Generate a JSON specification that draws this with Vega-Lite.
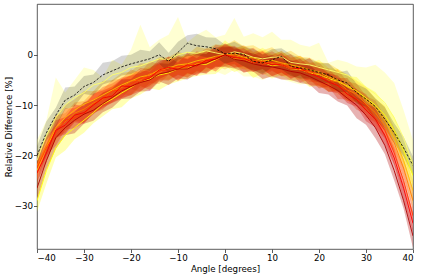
{
  "$schema": "https://vega.github.io/schema/vega-lite/v6.json",
  "autosize": "none",
  "width": 376,
  "height": 245,
  "padding": {"left": 37, "top": 4, "right": 12, "bottom": 28},
  "config": {
    "view": {"stroke": "#333", "strokeWidth": 0.8},
    "font": "DejaVu Sans",
    "axis": {"grid": false, "domain": false, "tickColor": "#333", "tickSize": 3.5, "tickWidth": 0.8, "labelFontSize": 8.7, "titleFontSize": 8.7, "labelColor": "#000", "titleColor": "#000", "titleFontWeight": "normal", "labelFont": "DejaVu Sans", "titleFont": "DejaVu Sans"}
  },
  "datasets": {
    "d": [
{"s":"a","x":-40,"y":-21,"lo":-25,"hi":-17},{"s":"a","x":-38,"y":-16,"lo":-19.5,"hi":-13},{"s":"a","x":-36,"y":-12.5,"lo":-17,"hi":-4.5},{"s":"a","x":-34,"y":-10,"lo":-13.8,"hi":-7.5},{"s":"a","x":-32,"y":-8.5,"lo":-12.7,"hi":-5},{"s":"a","x":-30,"y":-7.5,"lo":-11.1,"hi":-2.5},{"s":"a","x":-28,"y":-6,"lo":-10.4,"hi":-3},{"s":"a","x":-26,"y":-5.5,"lo":-9.4,"hi":-4.5},{"s":"a","x":-24,"y":-4,"lo":-8.1,"hi":-1},{"s":"a","x":-22,"y":-3.5,"lo":-7.2,"hi":-2},{"s":"a","x":-20,"y":-2.5,"lo":-6.5,"hi":1},{"s":"a","x":-18,"y":-2.2,"lo":-5.7,"hi":6},{"s":"a","x":-16,"y":-1.5,"lo":-6,"hi":1.5},{"s":"a","x":-14,"y":-0.8,"lo":-4.6,"hi":3},{"s":"a","x":-12,"y":-0.9,"lo":-5.1,"hi":4},{"s":"a","x":-10,"y":0,"lo":-3.6,"hi":7.5},{"s":"a","x":-8,"y":0.5,"lo":-3.9,"hi":2.5},{"s":"a","x":-6,"y":0.3,"lo":-3.6,"hi":4},{"s":"a","x":-4,"y":0.8,"lo":-3.3,"hi":5},{"s":"a","x":-2,"y":0.4,"lo":-3.3,"hi":3.5},{"s":"a","x":0,"y":0,"lo":-4,"hi":4},{"s":"a","x":2,"y":0.6,"lo":-2.9,"hi":7.3},{"s":"a","x":4,"y":0.2,"lo":-4.3,"hi":3.6},{"s":"a","x":6,"y":-0.5,"lo":-4.3,"hi":4.3},{"s":"a","x":8,"y":-0.8,"lo":-5,"hi":3.5},{"s":"a","x":10,"y":-0.5,"lo":-4.1,"hi":4.6},{"s":"a","x":12,"y":-0.4,"lo":-4.8,"hi":3},{"s":"a","x":14,"y":-1.5,"lo":-5.4,"hi":3},{"s":"a","x":16,"y":-1.8,"lo":-5.9,"hi":2},{"s":"a","x":18,"y":-2,"lo":-5.7,"hi":1.6},{"s":"a","x":20,"y":-2.5,"lo":-6.5,"hi":2.4},{"s":"a","x":22,"y":-3,"lo":-6.5,"hi":-1.6},{"s":"a","x":24,"y":-3.5,"lo":-8,"hi":-1},{"s":"a","x":26,"y":-4,"lo":-7.8,"hi":-1.5},{"s":"a","x":28,"y":-5.2,"lo":-9.4,"hi":-2.3},{"s":"a","x":30,"y":-6.5,"lo":-10.1,"hi":-2.5},{"s":"a","x":32,"y":-7.8,"lo":-12.2,"hi":-2},{"s":"a","x":34,"y":-9.5,"lo":-13.4,"hi":-3.5},{"s":"a","x":36,"y":-12.5,"lo":-16.6,"hi":-5.6},{"s":"a","x":38,"y":-16.5,"lo":-20.2,"hi":-11},{"s":"a","x":40,"y":-22,"lo":-26,"hi":-17},
{"s":"b","x":-40,"y":-29,"lo":-31.2,"hi":-26.1},{"s":"b","x":-38,"y":-23,"lo":-25.6,"hi":-20.9},{"s":"b","x":-36,"y":-18.5,"lo":-20.4,"hi":-16},{"s":"b","x":-34,"y":-16,"lo":-19,"hi":-14},{"s":"b","x":-32,"y":-14.5,"lo":-16.8,"hi":-11.7},{"s":"b","x":-30,"y":-13,"lo":-15.5,"hi":-10.7},{"s":"b","x":-28,"y":-11.5,"lo":-13.6,"hi":-8.9},{"s":"b","x":-26,"y":-9.8,"lo":-12.2,"hi":-7.6},{"s":"b","x":-24,"y":-8.8,"lo":-10.8,"hi":-6.1},{"s":"b","x":-22,"y":-7.6,"lo":-10.4,"hi":-5.7},{"s":"b","x":-20,"y":-6.5,"lo":-8.7,"hi":-3.6},{"s":"b","x":-18,"y":-5.3,"lo":-7.9,"hi":-3.2},{"s":"b","x":-16,"y":-4.8,"lo":-6.7,"hi":-2.3},{"s":"b","x":-14,"y":-4,"lo":-7,"hi":-2},{"s":"b","x":-12,"y":-3.6,"lo":-5.9,"hi":-0.8},{"s":"b","x":-10,"y":-2.8,"lo":-5.3,"hi":-0.5},{"s":"b","x":-8,"y":-2.6,"lo":-4.7,"hi":0},{"s":"b","x":-6,"y":-1.8,"lo":-4.2,"hi":0.4},{"s":"b","x":-4,"y":-1.9,"lo":-3.9,"hi":0.8},{"s":"b","x":-2,"y":-1,"lo":-3.8,"hi":0.9},{"s":"b","x":0,"y":0,"lo":-2.2,"hi":2.9},{"s":"b","x":2,"y":-0.8,"lo":-3.4,"hi":1.3},{"s":"b","x":4,"y":-0.8,"lo":-2.7,"hi":1.7},{"s":"b","x":6,"y":-1.6,"lo":-4.6,"hi":0.4},{"s":"b","x":8,"y":-1.4,"lo":-3.7,"hi":1.4},{"s":"b","x":10,"y":-2.2,"lo":-4.7,"hi":0.1},{"s":"b","x":12,"y":-1.9,"lo":-4,"hi":0.7},{"s":"b","x":14,"y":-2.8,"lo":-5.2,"hi":-0.6},{"s":"b","x":16,"y":-2.9,"lo":-4.9,"hi":-0.2},{"s":"b","x":18,"y":-3.6,"lo":-6.4,"hi":-1.7},{"s":"b","x":20,"y":-3.9,"lo":-6.1,"hi":-1},{"s":"b","x":22,"y":-4.7,"lo":-7.3,"hi":-2.6},{"s":"b","x":24,"y":-5.3,"lo":-7.2,"hi":-2.8},{"s":"b","x":26,"y":-6.2,"lo":-9.2,"hi":-4.2},{"s":"b","x":28,"y":-7.2,"lo":-9.5,"hi":-4.4},{"s":"b","x":30,"y":-8.6,"lo":-11.1,"hi":-6.3},{"s":"b","x":32,"y":-10,"lo":-12.1,"hi":-7.4},{"s":"b","x":34,"y":-12,"lo":-14.4,"hi":-9.8},{"s":"b","x":36,"y":-15,"lo":-17,"hi":-12.3},{"s":"b","x":38,"y":-19,"lo":-21.8,"hi":-17.1},{"s":"b","x":40,"y":-24,"lo":-26.2,"hi":-21.1},
{"s":"c","x":-40,"y":-23,"lo":-25.9,"hi":-21.1},{"s":"c","x":-38,"y":-18.5,"lo":-20.7,"hi":-15.8},{"s":"c","x":-36,"y":-14.5,"lo":-16.9,"hi":-12.3},{"s":"c","x":-34,"y":-12.5,"lo":-14.5,"hi":-10},{"s":"c","x":-32,"y":-11,"lo":-13.3,"hi":-8.9},{"s":"c","x":-30,"y":-9.8,"lo":-11.7,"hi":-7.2},{"s":"c","x":-28,"y":-9,"lo":-11.7,"hi":-7.2},{"s":"c","x":-26,"y":-8,"lo":-10.1,"hi":-5.2},{"s":"c","x":-24,"y":-7,"lo":-9.5,"hi":-5},{"s":"c","x":-22,"y":-6,"lo":-7.8,"hi":-3.6},{"s":"c","x":-20,"y":-5.2,"lo":-8.1,"hi":-3.3},{"s":"c","x":-18,"y":-4.4,"lo":-6.6,"hi":-1.7},{"s":"c","x":-16,"y":-4,"lo":-6.4,"hi":-1.8},{"s":"c","x":-14,"y":-3,"lo":-5,"hi":-0.5},{"s":"c","x":-12,"y":-2.6,"lo":-4.9,"hi":-0.5},{"s":"c","x":-10,"y":-2,"lo":-3.9,"hi":0.6},{"s":"c","x":-8,"y":-1.8,"lo":-4.5,"hi":0},{"s":"c","x":-6,"y":-1.2,"lo":-3.3,"hi":1.6},{"s":"c","x":-4,"y":-0.8,"lo":-3.3,"hi":1.2},{"s":"c","x":-2,"y":-0.3,"lo":-2.1,"hi":2.1},{"s":"c","x":0,"y":0,"lo":-2.9,"hi":1.9},{"s":"c","x":2,"y":0.2,"lo":-2,"hi":2.9},{"s":"c","x":4,"y":-0.5,"lo":-2.9,"hi":1.7},{"s":"c","x":6,"y":-0.6,"lo":-2.6,"hi":1.9},{"s":"c","x":8,"y":-1.2,"lo":-3.5,"hi":0.9},{"s":"c","x":10,"y":-1.1,"lo":-3,"hi":1.5},{"s":"c","x":12,"y":-1.6,"lo":-4.3,"hi":0.2},{"s":"c","x":14,"y":-2,"lo":-4.1,"hi":0.8},{"s":"c","x":16,"y":-2.4,"lo":-4.9,"hi":-0.4},{"s":"c","x":18,"y":-3,"lo":-4.8,"hi":-0.6},{"s":"c","x":20,"y":-3.4,"lo":-6.3,"hi":-1.5},{"s":"c","x":22,"y":-4.4,"lo":-6.6,"hi":-1.7},{"s":"c","x":24,"y":-5,"lo":-7.4,"hi":-2.8},{"s":"c","x":26,"y":-6.4,"lo":-8.4,"hi":-3.9},{"s":"c","x":28,"y":-7.2,"lo":-9.5,"hi":-5.1},{"s":"c","x":30,"y":-9,"lo":-10.9,"hi":-6.4},{"s":"c","x":32,"y":-10.5,"lo":-13.2,"hi":-8.7},{"s":"c","x":34,"y":-13,"lo":-15.1,"hi":-10.2},{"s":"c","x":36,"y":-16.5,"lo":-19,"hi":-14.5},{"s":"c","x":38,"y":-21,"lo":-22.8,"hi":-18.6},{"s":"c","x":40,"y":-27,"lo":-29.9,"hi":-25.1},
{"s":"d","x":-40,"y":-22,"lo":-23.6,"hi":-19.7},{"s":"d","x":-38,"y":-18,"lo":-20.4,"hi":-16.5},{"s":"d","x":-36,"y":-14.5,"lo":-16.3,"hi":-12},{"s":"d","x":-34,"y":-13.3,"lo":-15.5,"hi":-11.6},{"s":"d","x":-32,"y":-11.6,"lo":-13.1,"hi":-9.5},{"s":"d","x":-30,"y":-10.8,"lo":-13.4,"hi":-9.2},{"s":"d","x":-28,"y":-9.6,"lo":-11.5,"hi":-7.2},{"s":"d","x":-26,"y":-8.8,"lo":-10.9,"hi":-6.9},{"s":"d","x":-24,"y":-7.2,"lo":-8.9,"hi":-5},{"s":"d","x":-22,"y":-6.5,"lo":-8.5,"hi":-4.7},{"s":"d","x":-20,"y":-5.2,"lo":-6.8,"hi":-2.9},{"s":"d","x":-18,"y":-5,"lo":-7.4,"hi":-3.5},{"s":"d","x":-16,"y":-3.8,"lo":-5.6,"hi":-1.3},{"s":"d","x":-14,"y":-3.6,"lo":-5.8,"hi":-1.9},{"s":"d","x":-12,"y":-2.4,"lo":-3.9,"hi":-0.3},{"s":"d","x":-10,"y":-2.6,"lo":-5.2,"hi":-1},{"s":"d","x":-8,"y":-1.9,"lo":-3.8,"hi":0.5},{"s":"d","x":-6,"y":-1.9,"lo":-4,"hi":0},{"s":"d","x":-4,"y":-0.9,"lo":-2.6,"hi":1.3},{"s":"d","x":-2,"y":-0.8,"lo":-2.8,"hi":1},{"s":"d","x":0,"y":0,"lo":-1.6,"hi":2.3},{"s":"d","x":2,"y":-0.2,"lo":-2.6,"hi":1.3},{"s":"d","x":4,"y":-0.6,"lo":-2.4,"hi":1.9},{"s":"d","x":6,"y":-1.1,"lo":-3.3,"hi":0.6},{"s":"d","x":8,"y":-1.3,"lo":-2.8,"hi":0.8},{"s":"d","x":10,"y":-1.7,"lo":-4.3,"hi":-0.1},{"s":"d","x":12,"y":-1.6,"lo":-3.5,"hi":0.8},{"s":"d","x":14,"y":-2.5,"lo":-4.6,"hi":-0.6},{"s":"d","x":16,"y":-2.4,"lo":-4.1,"hi":-0.2},{"s":"d","x":18,"y":-3.4,"lo":-5.4,"hi":-1.6},{"s":"d","x":20,"y":-3.8,"lo":-5.4,"hi":-1.5},{"s":"d","x":22,"y":-5,"lo":-7.4,"hi":-3.5},{"s":"d","x":24,"y":-5.4,"lo":-7.2,"hi":-2.9},{"s":"d","x":26,"y":-7,"lo":-9.2,"hi":-5.3},{"s":"d","x":28,"y":-7.8,"lo":-9.3,"hi":-5.7},{"s":"d","x":30,"y":-9.8,"lo":-12.4,"hi":-8.2},{"s":"d","x":32,"y":-11.5,"lo":-13.4,"hi":-9.1},{"s":"d","x":34,"y":-14.2,"lo":-16.3,"hi":-12.3},{"s":"d","x":36,"y":-17.5,"lo":-19.2,"hi":-15.3},{"s":"d","x":38,"y":-22.5,"lo":-24.5,"hi":-20.7},{"s":"d","x":40,"y":-29,"lo":-30.6,"hi":-26.7},
{"s":"e","x":-40,"y":-22.5,"lo":-24.7,"hi":-20.8},{"s":"e","x":-38,"y":-18.5,"lo":-20,"hi":-16.4},{"s":"e","x":-36,"y":-15.5,"lo":-18.1,"hi":-13.9},{"s":"e","x":-34,"y":-13,"lo":-14.9,"hi":-10.6},{"s":"e","x":-32,"y":-12.5,"lo":-14.6,"hi":-10.6},{"s":"e","x":-30,"y":-11.8,"lo":-13.5,"hi":-9.6},{"s":"e","x":-28,"y":-9.8,"lo":-11.8,"hi":-8},{"s":"e","x":-26,"y":-8.7,"lo":-10.3,"hi":-6.4},{"s":"e","x":-24,"y":-7.2,"lo":-9.6,"hi":-5.7},{"s":"e","x":-22,"y":-7,"lo":-8.8,"hi":-4.5},{"s":"e","x":-20,"y":-5.8,"lo":-8,"hi":-4.1},{"s":"e","x":-18,"y":-4.7,"lo":-6.2,"hi":-2.6},{"s":"e","x":-16,"y":-4.4,"lo":-7,"hi":-2.8},{"s":"e","x":-14,"y":-3.2,"lo":-5.1,"hi":-0.8},{"s":"e","x":-12,"y":-3,"lo":-5.1,"hi":-1.1},{"s":"e","x":-10,"y":-2.3,"lo":-4,"hi":-0.1},{"s":"e","x":-8,"y":-2.5,"lo":-4.5,"hi":-0.7},{"s":"e","x":-6,"y":-1.6,"lo":-3.2,"hi":0.7},{"s":"e","x":-4,"y":-1.4,"lo":-3.8,"hi":0.1},{"s":"e","x":-2,"y":-0.5,"lo":-2.3,"hi":2},{"s":"e","x":0,"y":0,"lo":-2.2,"hi":1.7},{"s":"e","x":2,"y":-0.3,"lo":-1.8,"hi":1.8},{"s":"e","x":4,"y":-1,"lo":-3.6,"hi":0.6},{"s":"e","x":6,"y":-1,"lo":-2.9,"hi":1.4},{"s":"e","x":8,"y":-1.9,"lo":-4,"hi":0},{"s":"e","x":10,"y":-1.5,"lo":-3.2,"hi":0.7},{"s":"e","x":12,"y":-2.2,"lo":-4.2,"hi":-0.4},{"s":"e","x":14,"y":-2.2,"lo":-3.8,"hi":0.1},{"s":"e","x":16,"y":-3.1,"lo":-5.5,"hi":-1.6},{"s":"e","x":18,"y":-3.1,"lo":-4.9,"hi":-0.6},{"s":"e","x":20,"y":-4.5,"lo":-6.7,"hi":-2.8},{"s":"e","x":22,"y":-4.8,"lo":-6.3,"hi":-2.7},{"s":"e","x":24,"y":-6.2,"lo":-8.8,"hi":-4.6},{"s":"e","x":26,"y":-7,"lo":-8.9,"hi":-4.6},{"s":"e","x":28,"y":-8.8,"lo":-10.9,"hi":-6.9},{"s":"e","x":30,"y":-10,"lo":-11.7,"hi":-7.8},{"s":"e","x":32,"y":-12.5,"lo":-14.5,"hi":-10.7},{"s":"e","x":34,"y":-15,"lo":-16.6,"hi":-12.7},{"s":"e","x":36,"y":-19.5,"lo":-21.9,"hi":-18},{"s":"e","x":38,"y":-25,"lo":-26.8,"hi":-22.5},{"s":"e","x":40,"y":-32,"lo":-34.2,"hi":-30.3},
{"s":"f","x":-40,"y":-23.5,"lo":-25.2,"hi":-21.3},{"s":"f","x":-38,"y":-19.5,"lo":-21.4,"hi":-17.8},{"s":"f","x":-36,"y":-15,"lo":-16.5,"hi":-13},{"s":"f","x":-34,"y":-14,"lo":-15.8,"hi":-12.4},{"s":"f","x":-32,"y":-12,"lo":-13.4,"hi":-9.9},{"s":"f","x":-30,"y":-11.5,"lo":-13.7,"hi":-10.2},{"s":"f","x":-28,"y":-10,"lo":-11.6,"hi":-7.7},{"s":"f","x":-26,"y":-8.6,"lo":-10.6,"hi":-7.1},{"s":"f","x":-24,"y":-8.2,"lo":-9.5,"hi":-6.3},{"s":"f","x":-22,"y":-6.2,"lo":-8.6,"hi":-4.8},{"s":"f","x":-20,"y":-6.3,"lo":-8,"hi":-4.1},{"s":"f","x":-18,"y":-5.3,"lo":-7.2,"hi":-3.6},{"s":"f","x":-16,"y":-4.6,"lo":-6.1,"hi":-2.6},{"s":"f","x":-14,"y":-3,"lo":-4.8,"hi":-1.4},{"s":"f","x":-12,"y":-2.5,"lo":-3.9,"hi":-0.4},{"s":"f","x":-10,"y":-2.9,"lo":-5.1,"hi":-1.6},{"s":"f","x":-8,"y":-2,"lo":-3.6,"hi":0.3},{"s":"f","x":-6,"y":-2.2,"lo":-4.2,"hi":-0.7},{"s":"f","x":-4,"y":-1.1,"lo":-2.4,"hi":0.8},{"s":"f","x":-2,"y":-0.9,"lo":-3.3,"hi":0.5},{"s":"f","x":0,"y":0,"lo":-1.7,"hi":2.2},{"s":"f","x":2,"y":-0.6,"lo":-2.5,"hi":1.1},{"s":"f","x":4,"y":-0.7,"lo":-2.2,"hi":1.3},{"s":"f","x":6,"y":-1.6,"lo":-3.4,"hi":0},{"s":"f","x":8,"y":-1.4,"lo":-2.8,"hi":0.7},{"s":"f","x":10,"y":-2,"lo":-4.2,"hi":-0.7},{"s":"f","x":12,"y":-1.9,"lo":-3.5,"hi":0.4},{"s":"f","x":14,"y":-2.8,"lo":-4.8,"hi":-1.3},{"s":"f","x":16,"y":-2.7,"lo":-4,"hi":-0.8},{"s":"f","x":18,"y":-3.7,"lo":-6.1,"hi":-2.3},{"s":"f","x":20,"y":-4.4,"lo":-6.1,"hi":-2.2},{"s":"f","x":22,"y":-5.4,"lo":-7.3,"hi":-3.7},{"s":"f","x":24,"y":-6.1,"lo":-7.6,"hi":-4.1},{"s":"f","x":26,"y":-7.8,"lo":-9.6,"hi":-6.2},{"s":"f","x":28,"y":-8.9,"lo":-10.3,"hi":-6.8},{"s":"f","x":30,"y":-11,"lo":-13.2,"hi":-9.7},{"s":"f","x":32,"y":-12.8,"lo":-14.4,"hi":-10.5},{"s":"f","x":34,"y":-16,"lo":-18,"hi":-14.5},{"s":"f","x":36,"y":-20.5,"lo":-21.8,"hi":-18.6},{"s":"f","x":38,"y":-26.5,"lo":-28.9,"hi":-25.1},{"s":"f","x":40,"y":-33.5,"lo":-35.2,"hi":-31.3},
{"s":"g","x":-40,"y":-26.5,"lo":-28.9,"hi":-25},{"s":"g","x":-38,"y":-21,"lo":-22.8,"hi":-18.5},{"s":"g","x":-36,"y":-16.5,"lo":-18.7,"hi":-14.8},{"s":"g","x":-34,"y":-14.5,"lo":-16,"hi":-12.4},{"s":"g","x":-32,"y":-13,"lo":-15.6,"hi":-11.4},{"s":"g","x":-30,"y":-11.8,"lo":-13.7,"hi":-9.4},{"s":"g","x":-28,"y":-11,"lo":-13.1,"hi":-9.1},{"s":"g","x":-26,"y":-9.7,"lo":-11.4,"hi":-7.5},{"s":"g","x":-24,"y":-8.5,"lo":-10.5,"hi":-6.7},{"s":"g","x":-22,"y":-7.2,"lo":-8.8,"hi":-4.9},{"s":"g","x":-20,"y":-6.3,"lo":-8.7,"hi":-4.8},{"s":"g","x":-18,"y":-5.5,"lo":-7.3,"hi":-3},{"s":"g","x":-16,"y":-5,"lo":-7.2,"hi":-3.3},{"s":"g","x":-14,"y":-3.8,"lo":-5.3,"hi":-1.7},{"s":"g","x":-12,"y":-3.4,"lo":-6,"hi":-1.8},{"s":"g","x":-10,"y":-2.8,"lo":-4.7,"hi":-0.4},{"s":"g","x":-8,"y":-2.8,"lo":-4.9,"hi":-0.9},{"s":"g","x":-6,"y":-2,"lo":-3.7,"hi":0.2},{"s":"g","x":-4,"y":-1.6,"lo":-3.6,"hi":0.2},{"s":"g","x":-2,"y":-0.8,"lo":-2.4,"hi":1.5},{"s":"g","x":0,"y":0,"lo":-2.4,"hi":1.5},{"s":"g","x":2,"y":-0.9,"lo":-2.7,"hi":1.6},{"s":"g","x":4,"y":-1.2,"lo":-3.4,"hi":0.5},{"s":"g","x":6,"y":-1.8,"lo":-3.3,"hi":0.3},{"s":"g","x":8,"y":-2.2,"lo":-4.8,"hi":-0.6},{"s":"g","x":10,"y":-2.4,"lo":-4.3,"hi":0},{"s":"g","x":12,"y":-2.8,"lo":-4.9,"hi":-0.9},{"s":"g","x":14,"y":-3.3,"lo":-5,"hi":-1.1},{"s":"g","x":16,"y":-3.6,"lo":-5.6,"hi":-1.8},{"s":"g","x":18,"y":-4.3,"lo":-5.9,"hi":-2},{"s":"g","x":20,"y":-5.2,"lo":-7.6,"hi":-3.7},{"s":"g","x":22,"y":-6.1,"lo":-7.9,"hi":-3.6},{"s":"g","x":24,"y":-7.1,"lo":-9.3,"hi":-5.4},{"s":"g","x":26,"y":-8.6,"lo":-10.1,"hi":-6.5},{"s":"g","x":28,"y":-10,"lo":-12.6,"hi":-8.4},{"s":"g","x":30,"y":-12,"lo":-13.9,"hi":-9.6},{"s":"g","x":32,"y":-14.5,"lo":-16.6,"hi":-12.6},{"s":"g","x":34,"y":-18,"lo":-19.7,"hi":-15.8},{"s":"g","x":36,"y":-23,"lo":-25,"hi":-21.2},{"s":"g","x":38,"y":-29,"lo":-30.6,"hi":-26.7},{"s":"g","x":40,"y":-36,"lo":-38.4,"hi":-34.5},
{"s":"k","x":-40,"y":-20,"lo":-22,"hi":-18.2},{"s":"k","x":-38,"y":-15.5,"lo":-17.1,"hi":-13.2},{"s":"k","x":-36,"y":-12,"lo":-14.4,"hi":-10.5},{"s":"k","x":-34,"y":-9,"lo":-10.8,"hi":-6.5},{"s":"k","x":-32,"y":-8,"lo":-10.2,"hi":-6.3},{"s":"k","x":-30,"y":-6.3,"lo":-7.8,"hi":-4.2},{"s":"k","x":-28,"y":-5.5,"lo":-8.1,"hi":-3.9},{"s":"k","x":-26,"y":-4,"lo":-5.9,"hi":-1.6},{"s":"k","x":-24,"y":-3.2,"lo":-5.3,"hi":-1.3},{"s":"k","x":-22,"y":-2.4,"lo":-4.1,"hi":-0.2},{"s":"k","x":-20,"y":-1.8,"lo":-3.8,"hi":0},{"s":"k","x":-18,"y":-1.3,"lo":-2.9,"hi":1},{"s":"k","x":-16,"y":-0.8,"lo":-3.2,"hi":0.7},{"s":"k","x":-14,"y":0,"lo":-1.8,"hi":2.5},{"s":"k","x":-12,"y":-1.3,"lo":-3.5,"hi":0.4},{"s":"k","x":-10,"y":0.5,"lo":-1,"hi":2.6},{"s":"k","x":-8,"y":2.3,"lo":-0.3,"hi":3.9},{"s":"k","x":-6,"y":1.8,"lo":-0.1,"hi":4.2},{"s":"k","x":-4,"y":1.6,"lo":-0.5,"hi":3.5},{"s":"k","x":-2,"y":1.2,"lo":-0.5,"hi":3.4},{"s":"k","x":0,"y":0.2,"lo":-1.8,"hi":2},{"s":"k","x":2,"y":0.3,"lo":-1.3,"hi":2.6},{"s":"k","x":4,"y":0.1,"lo":-2.3,"hi":1.6},{"s":"k","x":6,"y":-1.3,"lo":-3.1,"hi":1.2},{"s":"k","x":8,"y":-1.6,"lo":-3.8,"hi":0.1},{"s":"k","x":10,"y":-1,"lo":-2.5,"hi":1.1},{"s":"k","x":12,"y":-0.3,"lo":-2.9,"hi":1.3},{"s":"k","x":14,"y":-2.3,"lo":-4.2,"hi":0.1},{"s":"k","x":16,"y":-2.6,"lo":-4.7,"hi":-0.7},{"s":"k","x":18,"y":-3,"lo":-4.7,"hi":-0.8},{"s":"k","x":20,"y":-3.5,"lo":-5.5,"hi":-1.7},{"s":"k","x":22,"y":-4,"lo":-5.6,"hi":-1.7},{"s":"k","x":24,"y":-5,"lo":-7.4,"hi":-3.5},{"s":"k","x":26,"y":-5.6,"lo":-7.4,"hi":-3.1},{"s":"k","x":28,"y":-7.5,"lo":-9.7,"hi":-5.8},{"s":"k","x":30,"y":-8.8,"lo":-10.3,"hi":-6.7},{"s":"k","x":32,"y":-10.3,"lo":-12.9,"hi":-8.7},{"s":"k","x":34,"y":-12.8,"lo":-14.7,"hi":-10.4},{"s":"k","x":36,"y":-15.5,"lo":-17.6,"hi":-13.6},{"s":"k","x":38,"y":-18.5,"lo":-20.2,"hi":-16.3},{"s":"k","x":40,"y":-22,"lo":-24,"hi":-20.2}
    ]
  },
  "data": {"name": "d"},
  "encoding": {
    "x": {"field": "x", "type": "quantitative", "title": "Angle [degrees]", "scale": {"domain": [-40, 40], "nice": false, "zero": false}, "axis": {"values": [-40, -30, -20, -10, 0, 10, 20, 30, 40], "labelPadding": 1, "titlePadding": 2}}
  },
  "layer": [
    {
      "transform": [{"filter": "datum.s != 'k'"}],
      "mark": {"type": "area", "opacity": 0.3, "clip": true},
      "encoding": {
        "y": {"field": "lo", "type": "quantitative", "title": "Relative Difference [%]", "scale": {"domain": [-38.6, 10.1], "nice": false, "zero": false}, "axis": {"values": [0, -10, -20, -30], "labelPadding": 1, "titlePadding": 1}},
        "y2": {"field": "hi"},
        "color": {"field": "s", "type": "nominal", "legend": null, "scale": {"domain": ["a","b","c","d","e","f","g","k"], "range": ["#ffff69","#ffff04","#ffbe00","#ff7c00","#ff3800","#f50000","#af0000","#000000"]}}
      }
    },
    {
      "transform": [{"filter": "datum.s == 'k'"}],
      "mark": {"type": "area", "opacity": 0.16, "color": "#000", "clip": true},
      "encoding": {
        "y": {"field": "lo", "type": "quantitative"},
        "y2": {"field": "hi"}
      }
    },
    {
      "transform": [{"filter": "datum.s != 'k'"}],
      "mark": {"type": "line", "strokeWidth": 0.9, "clip": true},
      "encoding": {
        "y": {"field": "y", "type": "quantitative"},
        "color": {"field": "s", "type": "nominal", "legend": null}
      }
    },
    {
      "transform": [{"filter": "datum.s == 'k'"}],
      "mark": {"type": "line", "strokeWidth": 0.8, "color": "#000", "strokeDash": [2.5, 1.5], "clip": true},
      "encoding": {
        "y": {"field": "y", "type": "quantitative"}
      }
    }
  ]
}
